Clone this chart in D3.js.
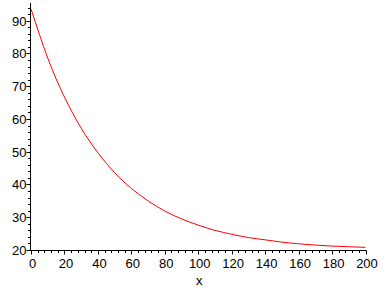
<!DOCTYPE html>
<html>
<head>
<meta charset="utf-8">
<script src="https://cdn.jsdelivr.net/npm/d3@7/dist/d3.min.js"></script>
<style>
  html, body { margin: 0; padding: 0; background: #fff; }
  svg { display: block; }
  .tick-label { font-family: "Liberation Sans", Arial, sans-serif; font-size: 13px; fill: #000; }
</style>
</head>
<body>
<svg id="chart" width="388" height="288"></svg>
<script>
// Values, every 10 units of x
const xValues = [0, 10, 20, 30, 40, 50, 60, 70, 80, 90, 100, 110, 120, 130, 140, 150, 160, 170, 180, 190, 200];
const yValues = [93.6, 78.6, 66.7, 57.2, 49.7, 43.6, 38.8, 35.0, 31.9, 29.5, 27.6, 26.0, 24.8, 23.8, 23.1, 22.4, 21.9, 21.5, 21.2, 21.0, 20.8];

// Tick labels
const xTicks = [0, 20, 40, 60, 80, 100, 120, 140, 160, 180, 200];
const yTicks = [20, 30, 40, 50, 60, 70, 80, 90];
const xLabel = "x";

const svg = d3.select("#chart");

// Scales
const x = d3.scaleLinear().domain([0, 200]).range([31, 365.5]);
const y = d3.scaleLinear().domain([20, 95.4]).range([250, 3]);

const points = xValues.map((d, i) => ({ x: d, y: yValues[i] }));

// Minor ticks: every 4 on x, every 2 on y
const xMinor = d3.range(0, 201, 4).filter(d => !xTicks.includes(d));
const yMinor = d3.range(20, 95.4, 2).filter(d => !yTicks.includes(d));

// X axis
const xAxis = svg.append("g").attr("transform", "translate(0,250.5)");
xAxis.append("line")
    .attr("x1", 30).attr("x2", x(200) + 1)
    .attr("stroke", "#000").attr("stroke-width", 1);
xAxis.selectAll(".major")
    .data(xTicks)
    .join("line")
    .attr("x1", d => Math.round(x(d)) + 0.5).attr("x2", d => Math.round(x(d)) + 0.5)
    .attr("y1", 0).attr("y2", 4)
    .attr("stroke", "#000");
xAxis.selectAll(".minor")
    .data(xMinor)
    .join("line")
    .attr("x1", d => Math.round(x(d)) + 0.5).attr("x2", d => Math.round(x(d)) + 0.5)
    .attr("y1", 0).attr("y2", 2.5)
    .attr("stroke", "#000");
xAxis.selectAll("text")
    .data(xTicks)
    .join("text")
    .attr("class", "tick-label")
    .attr("x", d => x(d) + 1.5)
    .attr("y", 17)
    .attr("text-anchor", "middle")
    .text(d => d);

// Y axis
const yAxis = svg.append("g").attr("transform", "translate(30.5,0)");
yAxis.append("line")
    .attr("y1", 3).attr("y2", 251)
    .attr("stroke", "#000").attr("stroke-width", 1);
yAxis.selectAll(".major")
    .data(yTicks)
    .join("line")
    .attr("y1", d => Math.round(y(d)) + 0.5).attr("y2", d => Math.round(y(d)) + 0.5)
    .attr("x1", -4).attr("x2", 0)
    .attr("stroke", "#000");
yAxis.selectAll(".minor")
    .data(yMinor)
    .join("line")
    .attr("y1", d => Math.round(y(d)) + 0.5).attr("y2", d => Math.round(y(d)) + 0.5)
    .attr("x1", -2.5).attr("x2", 0)
    .attr("stroke", "#000");
yAxis.selectAll("text")
    .data(yTicks)
    .join("text")
    .attr("class", "tick-label")
    .attr("x", -4)
    .attr("y", d => y(d) + 5)
    .attr("text-anchor", "end")
    .text(d => d);

// Axis title
svg.append("text")
    .attr("class", "tick-label")
    .attr("x", x(100) + 1)
    .attr("y", 285)
    .attr("text-anchor", "middle")
    .text(xLabel);

// The curve
const line = d3.line()
    .x(d => x(d.x))
    .y(d => y(d.y))
    .curve(d3.curveNatural);

svg.append("path")
    .datum(points)
    .attr("d", line)
    .attr("fill", "none")
    .attr("stroke", "#ff0000")
    .attr("stroke-width", 1);
</script>
</body>
</html>
